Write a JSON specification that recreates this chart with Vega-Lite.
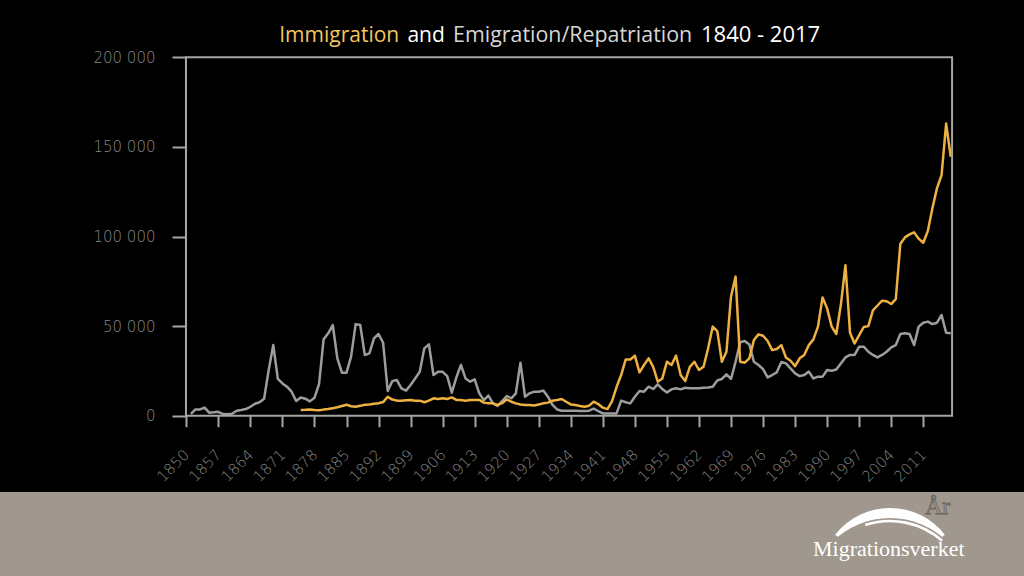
{
  "$schema": "https://vega.github.io/schema/vega-lite/v6.json",
  "autosize": {"type": "none"},
  "padding": 0,
  "width": 1024,
  "height": 576,
  "background": "#000000",
  "config": {"view": {"stroke": null}},
  "datasets": {
    "one": [{"k": 1}],
    "emigration": [
      {"year":1851,"value":1000},{"year":1852,"value":3500},{"year":1853,"value":3500},{"year":1854,"value":4500},{"year":1855,"value":1700},{"year":1856,"value":1900},{"year":1857,"value":2200},{"year":1858,"value":900},{"year":1859,"value":800},{"year":1860,"value":1100},
      {"year":1861,"value":2800},{"year":1862,"value":3200},{"year":1863,"value":3700},{"year":1864,"value":5000},{"year":1865,"value":6700},{"year":1866,"value":7500},{"year":1867,"value":9500},{"year":1868,"value":25500},{"year":1869,"value":39400},{"year":1870,"value":20500},
      {"year":1871,"value":18000},{"year":1872,"value":16200},{"year":1873,"value":13400},{"year":1874,"value":8200},{"year":1875,"value":10200},{"year":1876,"value":9500},{"year":1877,"value":8000},{"year":1878,"value":10000},{"year":1879,"value":17700},{"year":1880,"value":42600},
      {"year":1881,"value":46000},{"year":1882,"value":50600},{"year":1883,"value":32000},{"year":1884,"value":24000},{"year":1885,"value":24000},{"year":1886,"value":33000},{"year":1887,"value":51100},{"year":1888,"value":50600},{"year":1889,"value":33900},{"year":1890,"value":34800},
      {"year":1891,"value":43200},{"year":1892,"value":45600},{"year":1893,"value":40700},{"year":1894,"value":13800},{"year":1895,"value":19300},{"year":1896,"value":19900},{"year":1897,"value":15200},{"year":1898,"value":14000},{"year":1899,"value":17100},{"year":1900,"value":20800},
      {"year":1901,"value":24500},{"year":1902,"value":37600},{"year":1903,"value":39800},{"year":1904,"value":22700},{"year":1905,"value":24500},{"year":1906,"value":24500},{"year":1907,"value":22100},{"year":1908,"value":12800},{"year":1909,"value":21400},{"year":1910,"value":28300},
      {"year":1911,"value":20800},{"year":1912,"value":19000},{"year":1913,"value":20300},{"year":1914,"value":12500},{"year":1915,"value":8700},{"year":1916,"value":11200},{"year":1917,"value":6900},{"year":1918,"value":5400},{"year":1919,"value":8200},{"year":1920,"value":11000},
      {"year":1921,"value":9700},{"year":1922,"value":12500},{"year":1923,"value":29600},{"year":1924,"value":10600},{"year":1925,"value":12500},{"year":1926,"value":13400},{"year":1927,"value":13400},{"year":1928,"value":14000},{"year":1929,"value":10600},{"year":1930,"value":6000},
      {"year":1931,"value":3500},{"year":1932,"value":2800},{"year":1933,"value":2800},{"year":1934,"value":2800},{"year":1935,"value":2800},{"year":1936,"value":2600},{"year":1937,"value":2600},{"year":1938,"value":2800},{"year":1939,"value":4000},{"year":1940,"value":2500},
      {"year":1941,"value":1300},{"year":1942,"value":1200},{"year":1943,"value":1200},{"year":1944,"value":1300},{"year":1945,"value":8400},{"year":1946,"value":7500},{"year":1947,"value":6900},{"year":1948,"value":10600},{"year":1949,"value":13800},{"year":1950,"value":13400},
      {"year":1951,"value":16200},{"year":1952,"value":14900},{"year":1953,"value":17500},{"year":1954,"value":14900},{"year":1955,"value":13000},{"year":1956,"value":14700},{"year":1957,"value":15300},{"year":1958,"value":14700},{"year":1959,"value":15600},{"year":1960,"value":15300},
      {"year":1961,"value":15300},{"year":1962,"value":15300},{"year":1963,"value":15600},{"year":1964,"value":15800},{"year":1965,"value":16200},{"year":1966,"value":19700},{"year":1967,"value":20500},{"year":1968,"value":23100},{"year":1969,"value":20500},{"year":1970,"value":30100},
      {"year":1971,"value":41000},{"year":1972,"value":41700},{"year":1973,"value":39800},{"year":1974,"value":30100},{"year":1975,"value":28300},{"year":1976,"value":26000},{"year":1977,"value":21400},{"year":1978,"value":22700},{"year":1979,"value":24200},{"year":1980,"value":30000},
      {"year":1981,"value":29200},{"year":1982,"value":26400},{"year":1983,"value":23600},{"year":1984,"value":22100},{"year":1985,"value":22700},{"year":1986,"value":24600},{"year":1987,"value":20800},{"year":1988,"value":21800},{"year":1989,"value":21800},{"year":1990,"value":25500},
      {"year":1991,"value":25100},{"year":1992,"value":25800},{"year":1993,"value":29200},{"year":1994,"value":32500},{"year":1995,"value":33900},{"year":1996,"value":33900},{"year":1997,"value":38500},{"year":1998,"value":38500},{"year":1999,"value":35700},{"year":2000,"value":33900},
      {"year":2001,"value":32500},{"year":2002,"value":33900},{"year":2003,"value":35700},{"year":2004,"value":38100},{"year":2005,"value":39400},{"year":2006,"value":45600},{"year":2007,"value":46000},{"year":2008,"value":45600},{"year":2009,"value":39400},{"year":2010,"value":49700},
      {"year":2011,"value":51900},{"year":2012,"value":52500},{"year":2013,"value":51100},{"year":2014,"value":51900},{"year":2015,"value":56200},{"year":2016,"value":46300},{"year":2017,"value":46000}
    ],
    "immigration": [
      {"year":1875,"value":3200},{"year":1876,"value":3300},{"year":1877,"value":3500},{"year":1878,"value":3200},{"year":1879,"value":3000},{"year":1880,"value":3400},
      {"year":1881,"value":3700},{"year":1882,"value":4200},{"year":1883,"value":4700},{"year":1884,"value":5400},{"year":1885,"value":6100},{"year":1886,"value":5300},{"year":1887,"value":5000},{"year":1888,"value":5500},{"year":1889,"value":6100},{"year":1890,"value":6300},
      {"year":1891,"value":6700},{"year":1892,"value":7000},{"year":1893,"value":7600},{"year":1894,"value":10600},{"year":1895,"value":9000},{"year":1896,"value":8400},{"year":1897,"value":8400},{"year":1898,"value":8600},{"year":1899,"value":8800},{"year":1900,"value":8400},
      {"year":1901,"value":8400},{"year":1902,"value":7500},{"year":1903,"value":8400},{"year":1904,"value":9700},{"year":1905,"value":9300},{"year":1906,"value":9700},{"year":1907,"value":9300},{"year":1908,"value":10200},{"year":1909,"value":8800},{"year":1910,"value":8800},
      {"year":1911,"value":8400},{"year":1912,"value":8800},{"year":1913,"value":8800},{"year":1914,"value":8800},{"year":1915,"value":7300},{"year":1916,"value":6900},{"year":1917,"value":6900},{"year":1918,"value":6000},{"year":1919,"value":7000},{"year":1920,"value":9100},
      {"year":1921,"value":7800},{"year":1922,"value":6900},{"year":1923,"value":6300},{"year":1924,"value":6000},{"year":1925,"value":6000},{"year":1926,"value":5700},{"year":1927,"value":6300},{"year":1928,"value":6900},{"year":1929,"value":7300},{"year":1930,"value":8400},
      {"year":1931,"value":8800},{"year":1932,"value":9300},{"year":1933,"value":7800},{"year":1934,"value":6300},{"year":1935,"value":6000},{"year":1936,"value":5400},{"year":1937,"value":5000},{"year":1938,"value":5600},{"year":1939,"value":7800},{"year":1940,"value":6500},
      {"year":1941,"value":4500},{"year":1942,"value":3700},{"year":1943,"value":8000},{"year":1944,"value":16000},{"year":1945,"value":22700},{"year":1946,"value":31400},{"year":1947,"value":31400},{"year":1948,"value":33500},{"year":1949,"value":24200},{"year":1950,"value":28300},
      {"year":1951,"value":32000},{"year":1952,"value":27300},{"year":1953,"value":19000},{"year":1954,"value":20800},{"year":1955,"value":30100},{"year":1956,"value":28300},{"year":1957,"value":33500},{"year":1958,"value":22700},{"year":1959,"value":19300},{"year":1960,"value":27300},
      {"year":1961,"value":30100},{"year":1962,"value":25500},{"year":1963,"value":27300},{"year":1964,"value":37600},{"year":1965,"value":49700},{"year":1966,"value":47200},{"year":1967,"value":30100},{"year":1968,"value":35700},{"year":1969,"value":66400},{"year":1970,"value":77600},
      {"year":1971,"value":30100},{"year":1972,"value":29600},{"year":1973,"value":32000},{"year":1974,"value":42200},{"year":1975,"value":45400},{"year":1976,"value":44600},{"year":1977,"value":41700},{"year":1978,"value":36600},{"year":1979,"value":37200},{"year":1980,"value":39400},
      {"year":1981,"value":32500},{"year":1982,"value":30700},{"year":1983,"value":27700},{"year":1984,"value":32000},{"year":1985,"value":33900},{"year":1986,"value":39400},{"year":1987,"value":42600},{"year":1988,"value":49700},{"year":1989,"value":66000},{"year":1990,"value":59900},
      {"year":1991,"value":49700},{"year":1992,"value":45600},{"year":1993,"value":61900},{"year":1994,"value":84000},{"year":1995,"value":46300},{"year":1996,"value":40300},{"year":1997,"value":45000},{"year":1998,"value":49500},{"year":1999,"value":50000},{"year":2000,"value":58800},
      {"year":2001,"value":61500},{"year":2002,"value":64200},{"year":2003,"value":63900},{"year":2004,"value":62300},{"year":2005,"value":65000},{"year":2006,"value":96000},{"year":2007,"value":99500},{"year":2008,"value":101200},{"year":2009,"value":102300},{"year":2010,"value":98800},
      {"year":2011,"value":96500},{"year":2012,"value":103100},{"year":2013,"value":115800},{"year":2014,"value":127000},{"year":2015,"value":134200},{"year":2016,"value":163000},{"year":2017,"value":144500}
    ]
  },
  "layer": [
    {
      "data": {"name": "one"},
      "mark": {"type": "rect", "color": "#a0988f"},
      "encoding": {
        "x": {"datum": 1800, "type": "quantitative", "scale": {"domain": [1809.3, 2033.01], "nice": false, "zero": false}, "axis": {"title": null}},
        "x2": {"datum": 2040},
        "y": {"datum": -42600, "type": "quantitative", "scale": {"domain": [-89447, 231973], "nice": false, "zero": false}, "axis": {"title": null}},
        "y2": {"datum": -100000}
      }
    },
    {
      "data": {"name": "emigration"},
      "mark": {"type": "line", "color": "#9d9d9d", "strokeWidth": 2.5, "strokeJoin": "round"},
      "encoding": {
        "x": {
          "field": "year", "type": "quantitative",
          "scale": {"domain": [1809.3, 2033.01], "nice": false, "zero": false},
          "axis": {
            "values": [1850,1857,1864,1871,1878,1885,1892,1899,1906,1913,1920,1927,1934,1941,1948,1955,1962,1969,1976,1983,1990,1997,2004,2011],
            "offset": -160.3, "domain": false, "grid": false, "title": null,
            "tickSize": 11, "tickWidth": 2, "tickColor": "#a6a6a6",
            "labelAngle": -45, "labelAlign": "right", "labelBaseline": "middle", "labelPadding": 25,
            "labelFont": "DejaVu Sans", "labelFontSize": 15, "labelFontWeight": 200, "labelColor": "#858585",
            "format": "d", "labelOverlap": false, "labelFlush": false
          }
        },
        "y": {
          "field": "value", "type": "quantitative",
          "scale": {"domain": [-89447, 231973], "nice": false, "zero": false},
          "axis": {
            "values": [0, 50000, 100000, 150000, 200000],
            "offset": -186, "domain": false, "grid": false, "title": null,
            "tickSize": 14, "tickWidth": 2, "tickColor": "#a6a6a6",
            "labelPadding": 17, "labelFont": "DejaVu Sans", "labelFontSize": 15, "labelFontWeight": 200, "labelColor": "#858585",
            "labelExpr": "replace(format(datum.value, ','), ',', ' ')"
          }
        }
      }
    },
    {
      "data": {"name": "immigration"},
      "mark": {"type": "line", "color": "#efb042", "strokeWidth": 2.5, "strokeJoin": "round"},
      "encoding": {
        "x": {"field": "year", "type": "quantitative", "scale": {"domain": [1809.3, 2033.01], "nice": false, "zero": false}, "axis": {"title": null}},
        "y": {"field": "value", "type": "quantitative", "scale": {"domain": [-89447, 231973], "nice": false, "zero": false}, "axis": {"title": null}}
      }
    },
    {
      "data": {"name": "one"},
      "mark": {"type": "rect", "filled": false, "stroke": "#a6a6a6", "strokeWidth": 2},
      "encoding": {
        "x": {"datum": 1849.93, "type": "quantitative", "scale": {"domain": [1809.3, 2033.01], "nice": false, "zero": false}, "axis": {"title": null}},
        "x2": {"datum": 2017.3},
        "y": {"datum": 0, "type": "quantitative", "scale": {"domain": [-89447, 231973], "nice": false, "zero": false}, "axis": {"title": null}},
        "y2": {"datum": 200000}
      }
    },
    {
      "data": {"name": "one"},
      "mark": {"type": "text", "align": "left", "baseline": "alphabetic", "font": "Open Sans", "fontSize": 21, "color": "#f2c55e"},
      "encoding": {
        "x": {"datum": 1870.3, "type": "quantitative", "scale": {"domain": [1809.3, 2033.01], "nice": false, "zero": false}, "axis": {"title": null}},
        "y": {"datum": 208258, "type": "quantitative", "scale": {"domain": [-89447, 231973], "nice": false, "zero": false}, "axis": {"title": null}},
        "text": {"value": "Immigration"}
      }
    },
    {
      "data": {"name": "one"},
      "mark": {"type": "text", "align": "left", "baseline": "alphabetic", "font": "Open Sans", "fontSize": 21, "color": "#ffffff"},
      "encoding": {
        "x": {"datum": 1898.3, "type": "quantitative", "scale": {"domain": [1809.3, 2033.01], "nice": false, "zero": false}, "axis": {"title": null}},
        "y": {"datum": 208258, "type": "quantitative", "scale": {"domain": [-89447, 231973], "nice": false, "zero": false}, "axis": {"title": null}},
        "text": {"value": "and"}
      }
    },
    {
      "data": {"name": "one"},
      "mark": {"type": "text", "align": "left", "baseline": "alphabetic", "font": "Open Sans", "fontSize": 21.4, "color": "#d6d6d6"},
      "encoding": {
        "x": {"datum": 1908.29, "type": "quantitative", "scale": {"domain": [1809.3, 2033.01], "nice": false, "zero": false}, "axis": {"title": null}},
        "y": {"datum": 208258, "type": "quantitative", "scale": {"domain": [-89447, 231973], "nice": false, "zero": false}, "axis": {"title": null}},
        "text": {"value": "Emigration/Repatriation"}
      }
    },
    {
      "data": {"name": "one"},
      "mark": {"type": "text", "align": "left", "baseline": "alphabetic", "font": "Open Sans", "fontSize": 22, "color": "#ffffff"},
      "encoding": {
        "x": {"datum": 1962.45, "type": "quantitative", "scale": {"domain": [1809.3, 2033.01], "nice": false, "zero": false}, "axis": {"title": null}},
        "y": {"datum": 208258, "type": "quantitative", "scale": {"domain": [-89447, 231973], "nice": false, "zero": false}, "axis": {"title": null}},
        "text": {"value": "1840 - 2017"}
      }
    },
    {
      "data": {"name": "one"},
      "mark": {"type": "arc", "color": "#ffffff", "radius": 69.5, "radius2": 0, "theta": -0.91, "theta2": 0.91},
      "encoding": {
        "x": {"datum": 2003.74, "type": "quantitative", "scale": {"domain": [1809.3, 2033.01], "nice": false, "zero": false}, "axis": {"title": null}},
        "y": {"datum": -90284, "type": "quantitative", "scale": {"domain": [-89447, 231973], "nice": false, "zero": false}, "axis": {"title": null}}
      }
    },
    {
      "data": {"name": "one"},
      "mark": {"type": "arc", "color": "#a0988f", "radius": 82, "radius2": 0, "theta": -0.78, "theta2": 0.78},
      "encoding": {
        "x": {"datum": 2003.74, "type": "quantitative", "scale": {"domain": [1809.3, 2033.01], "nice": false, "zero": false}, "axis": {"title": null}},
        "y": {"datum": -102839, "type": "quantitative", "scale": {"domain": [-89447, 231973], "nice": false, "zero": false}, "axis": {"title": null}}
      }
    },
    {
      "data": {"name": "one"},
      "mark": {"type": "arc", "color": "#ffffff", "radius": 80.3, "radius2": 77.6, "theta": -0.32, "theta2": 0.72},
      "encoding": {
        "x": {"datum": 2003.74, "type": "quantitative", "scale": {"domain": [1809.3, 2033.01], "nice": false, "zero": false}, "axis": {"title": null}},
        "y": {"datum": -102839, "type": "quantitative", "scale": {"domain": [-89447, 231973], "nice": false, "zero": false}, "axis": {"title": null}}
      }
    },
    {
      "data": {"name": "one"},
      "mark": {"type": "text", "align": "left", "baseline": "alphabetic", "font": "Liberation Serif", "fontSize": 22, "color": "#ffffff"},
      "encoding": {
        "x": {"datum": 1986.92, "type": "quantitative", "scale": {"domain": [1809.3, 2033.01], "nice": false, "zero": false}, "axis": {"title": null}},
        "y": {"datum": -78287, "type": "quantitative", "scale": {"domain": [-89447, 231973], "nice": false, "zero": false}, "axis": {"title": null}},
        "text": {"value": "Migrationsverket"}
      }
    },
    {
      "data": {"name": "one"},
      "mark": {"type": "text", "align": "left", "baseline": "alphabetic", "font": "Liberation Serif", "fontSize": 24, "fill": "#a0988f", "stroke": "#6b635c", "strokeWidth": 0.8},
      "encoding": {
        "x": {"datum": 2011.38, "type": "quantitative", "scale": {"domain": [1809.3, 2033.01], "nice": false, "zero": false}, "axis": {"title": null}},
        "y": {"datum": -54850, "type": "quantitative", "scale": {"domain": [-89447, 231973], "nice": false, "zero": false}, "axis": {"title": null}},
        "text": {"value": "År"}
      }
    }
  ]
}
